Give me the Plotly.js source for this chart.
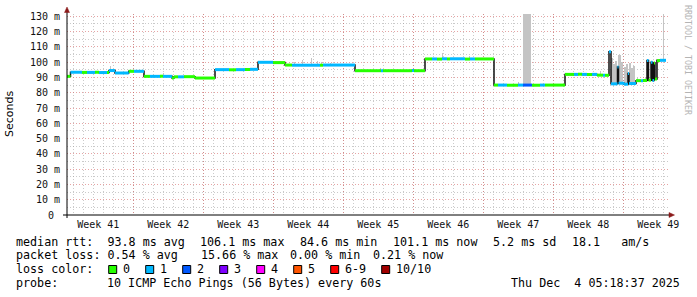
<!DOCTYPE html>
<html><head><meta charset="utf-8">
<script src="https://cdn.plot.ly/plotly-3.0.1.min.js"></script>
<style>html,body{margin:0;padding:0;background:#fff;}#chart{width:697px;height:297px;}</style>
</head><body><div id="chart"></div>
<script>
// ---------------- data ----------------
// time in days since the left edge of the graph
const weekLabels = ['Week 41','Week 42','Week 43','Week 44','Week 45','Week 46','Week 47','Week 48','Week 49'];
const weekStart  = [-0.37, 6.63, 13.63, 20.63, 27.63, 34.63, 41.63, 48.63, 55.63];
const yTickVals  = [0,10,20,30,40,50,60,70,80,90,100,110,120,130];
const yTickText  = ['0\u00a0','10 m','20 m','30 m','40 m','50 m','60 m','70 m','80 m','90 m','100 m','110 m','120 m','130 m'];

// median rtt (ms) as a step series: start time, value, lost pings out of 10
const medT = [0.0,0.35,1.5,2.0,2.8,3.2,4.0,4.2,4.8,6.17,6.7,7.7,8.3,9.3,9.6,10.5,10.7,11.1,11.7,12.8,
  14.8,16.2,16.9,17.8,18.3,19.1,20.6,21.8,22.5,25.3,25.6,28.8,31.4,31.6,34.5,34.7,35.8,36.5,37.0,37.5,
  38.0,38.3,39.8,40.3,40.8,42.7,43.1,44.0,45.1,45.6,46.5,47.3,47.8,49.8,50.7,51.1,51.5,52.0,52.5,53.0,
  53.6,53.8,54.2,54.4,55.05,55.15,55.7,56.1,56.2,56.9,57.4,57.6,58.0,58.15,58.4,58.55,58.7,58.8,59.0,59.3];
const medV = [90.7,93.4,93.3,93.3,93.4,93.2,93.3,94.5,92.9,94.0,94.0,90.7,90.7,90.8,90.7,89.6,90.4,90.4,90.5,89.6,
  95.1,95.0,95.1,95.2,95.3,99.9,99.7,98.1,98.0,98.0,98.1,94.4,94.4,94.4,94.5,94.4,102.1,102.1,102.0,102.2,
  102.1,102.2,102.0,102.1,102.1,85.0,85.0,84.9,85.0,85.0,84.9,85.0,85.0,92.0,92.0,92.1,92.0,91.9,92.0,91.5,
  91.4,91.4,106.8,85.8,96.8,86.2,85.6,92.5,86.0,87.9,87.9,88.0,101.0,88.2,100.0,88.0,99.5,89.0,101.0,101.2];
const medLoss = [0,1,0,1,0,1,0,1,1,0,1,0,1,0,1,0,0,1,0,0,
  1,0,1,0,1,1,0,0,1,0,1,0,1,0,1,0,0,1,0,1,
  0,1,0,1,0,0,1,0,1,2,0,1,0,0,1,0,1,0,1,0,
  1,0,1,1,1,1,1,1,1,0,1,0,1,0,1,1,0,0,0,1];
const medEnd = 59.9;

// smoke (spread of the 10 pings): from, to, low, high
const smokeFrom = [4.25,9.55,22.65,23.52,24.42,24.95,25.42,26.25,31.25,37.45,40.15,45.05,45.6,53.25,
  54.4,54.6,54.8,55.1,55.4,55.7,55.9,56.2,56.4,56.6,56.95,57.75,58.85,59.55];
const smokeTo   = [4.35,9.65,22.75,23.62,24.52,25.05,25.52,26.35,31.35,37.55,40.25,45.15,46.4,53.35,
  54.6,54.8,55.0,55.4,55.6,55.9,56.1,56.4,56.6,56.8,57.05,57.85,58.95,59.65];
const smokeLo   = [93.3,90.7,98.0,98.0,98.0,98.0,98.0,98.0,94.4,102.1,102.0,85.0,85.0,91.5,
  85.8,85.8,85.8,86.0,85.6,85.6,86.0,86.0,86.0,86.0,87.9,88.0,89.0,101.2];
const smokeHi   = [97.3,92.6,100.2,101.5,102.6,100.6,100.0,99.6,96.2,105.8,104.2,87.2,140,94.4,
  103.0,99.0,101.0,105.0,100.0,97.0,98.5,99.5,96.0,97.5,90.0,90.5,102.0,140];

const lossLabels = ['0','1','2','3','4','5','6-9','10/10'];
const lossColors = ['#26ff00','#00b8ff','#0059ff','#7e00ff','#ff00ff','#ff5500','#ff0000','#a10000'];

const rttLine  = ['median rtt:  93.8 ms avg','106.1 ms max','84.6 ms min','101.1 ms now','5.2 ms sd','18.1   am/s'];
const lossLine = ['packet loss: 0.54 % avg','15.66 % max','0.00 % min','0.21 % now'];
const probeText = '10 ICMP Echo Pings (56 Bytes) every 60s';
const stampText = 'Thu Dec  4 05:18:37 2025';

// ---------------- layout helpers ----------------
const FW = 697, FH = 297, L = 67, T = 14, W = 601, H = 201;
const R = FW - L - W, B = FH - T - H;
const px = x => (x - L) / W;
const py = y => (T + H - y) / H;
const nb = s => s.replace(/ /g, '\u00a0');
const MONO = 'DejaVu Sans Mono, monospace';

// ---------------- traces ----------------
const traces = [];
traces.push({
  type: 'bar', xaxis: 'x', yaxis: 'y', hoverinfo: 'skip',
  x: smokeFrom.map((f, i) => (f + smokeTo[i]) / 2),
  width: smokeFrom.map((f, i) => smokeTo[i] - f),
  base: smokeLo,
  y: smokeHi.map((h, i) => h - smokeLo[i]),
  marker: {color: '#c4c4c4', line: {width: 0}}
});
traces.push({
  type: 'scatter', mode: 'lines', xaxis: 'x2', yaxis: 'y', hoverinfo: 'skip',
  x: medT.concat([medEnd]), y: medV.concat([medV[medV.length - 1]]),
  line: {shape: 'hv', color: '#111', width: 1.5}
});
for (let lv = 0; lv < lossColors.length; lv++) {
  const xs = [], ys = [];
  for (let i = 0; i < medT.length; i++) {
    if (medLoss[i] !== lv) continue;
    const t1 = i + 1 < medT.length ? medT[i + 1] : medEnd;
    xs.push(medT[i], t1, null); ys.push(medV[i], medV[i], null);
  }
  if (!xs.length) continue;
  traces.push({type: 'scatter', mode: 'lines', xaxis: 'x2', yaxis: 'y', hoverinfo: 'skip',
    x: xs, y: ys, line: {color: lossColors[lv], width: 3}});
}

// ---------------- annotations & shapes ----------------
const ann = [], shapes = [];
function txt(x, yc, s, opt) {
  ann.push(Object.assign({xref: 'paper', yref: 'paper', x: px(x), y: py(yc), xanchor: 'left', yanchor: 'middle',
    text: nb(s), showarrow: false, font: {family: MONO, size: 11.7, color: '#000'}}, opt || {}));
}
const rttX = [14, 198, 298, 391.3, 491.3, 569.7];
rttLine.forEach((s, i) => txt(rttX[i], 241.6, s));
const lossX = [14, 199, 288, 370.7];
lossLine.forEach((s, i) => txt(lossX[i], 255.2, s));
txt(14, 269.4, 'loss color:');
let bx = 108.7;
lossLabels.forEach((lab, i) => {
  shapes.push({type: 'rect', xref: 'paper', yref: 'paper', x0: px(bx), x1: px(bx + 8), y0: py(273.5), y1: py(265.5),
    fillcolor: lossColors[i], line: {color: '#000', width: 1}});
  txt(bx + 12.6, 269.4, lab);
  bx += 30 + 7 * lab.length;
});
txt(14, 282.8, 'probe:');
txt(105.3, 282.8, probeText);
txt(682, 282.8, stampText, {xanchor: 'right'});
// y-axis title
ann.push({xref: 'paper', yref: 'paper', x: px(10), y: py(114), xanchor: 'center', yanchor: 'middle', textangle: -90,
  text: 'Seconds', showarrow: false, font: {family: 'DejaVu Sans, sans-serif', size: 11, color: '#000'}});
// watermark
ann.push({xref: 'paper', yref: 'paper', x: px(688), y: py(60), xanchor: 'center', yanchor: 'middle', textangle: 90,
  text: nb('RRDTOOL / TOBI OETIKER'), showarrow: false, font: {family: MONO, size: 8.3, color: '#b4b4b4'}});
// axes with arrows
shapes.push({type: 'line', xref: 'paper', yref: 'paper', x0: px(63), x1: px(671), y0: py(215), y1: py(215), line: {color: '#000', width: 1}});
shapes.push({type: 'line', xref: 'paper', yref: 'paper', x0: px(67), x1: px(67), y0: py(218), y1: py(10), line: {color: '#000', width: 1}});
shapes.push({type: 'path', xref: 'paper', yref: 'paper', fillcolor: '#8b1a1a', line: {color: '#8b1a1a', width: 0.5},
  path: `M ${px(64.5)} ${py(12.5)} L ${px(69.5)} ${py(12.5)} L ${px(67)} ${py(7)} Z`});
shapes.push({type: 'path', xref: 'paper', yref: 'paper', fillcolor: '#8b1a1a', line: {color: '#8b1a1a', width: 0.5},
  path: `M ${px(669)} ${py(212.5)} L ${px(669)} ${py(217.5)} L ${px(674.5)} ${py(215)} Z`});

const tickFont = {family: MONO, size: 10, color: '#111'};
const layout = {
  width: FW, height: FH, margin: {l: L, r: R, t: T, b: B},
  paper_bgcolor: '#fff', plot_bgcolor: '#fff', showlegend: false, barmode: 'overlay', bargap: 0,
  font: {family: MONO},
  xaxis: {range: [0, 60.1], tickmode: 'array', tickvals: weekStart.map(s => s + 3.5), ticktext: weekLabels,
    showgrid: false, zeroline: false, showline: false, ticks: '', tickfont: tickFont, ticklabelstandoff: 2,
    minor: {tickmode: 'linear', tick0: 0.63, dtick: 1, showgrid: true, gridcolor: 'rgba(150,150,150,0.5)', griddash: '1px,2px', gridwidth: 1, ticks: ''},
    fixedrange: true},
  xaxis2: {overlaying: 'x', range: [0, 60.1], tickmode: 'array', tickvals: weekStart, showticklabels: false,
    showgrid: true, gridcolor: 'rgba(210,90,90,0.55)', griddash: '1px,2px', gridwidth: 1, zeroline: false, showline: false, ticks: ''},
  yaxis: {range: [0, 131.5], tickmode: 'array', tickvals: yTickVals, ticktext: yTickText,
    showgrid: true, gridcolor: 'rgba(210,90,90,0.55)', griddash: '1px,2px', gridwidth: 1,
    zeroline: false, showline: false, ticks: '', tickfont: tickFont, ticklabelstandoff: 6,
    minor: {tickmode: 'linear', tick0: 5, dtick: 10, showgrid: true, gridcolor: 'rgba(150,150,150,0.5)', griddash: '1px,2px', gridwidth: 1, ticks: ''}},
  annotations: ann, shapes: shapes
};
Plotly.newPlot('chart', traces, layout, {staticPlot: true, displayModeBar: false});
</script></body></html>
